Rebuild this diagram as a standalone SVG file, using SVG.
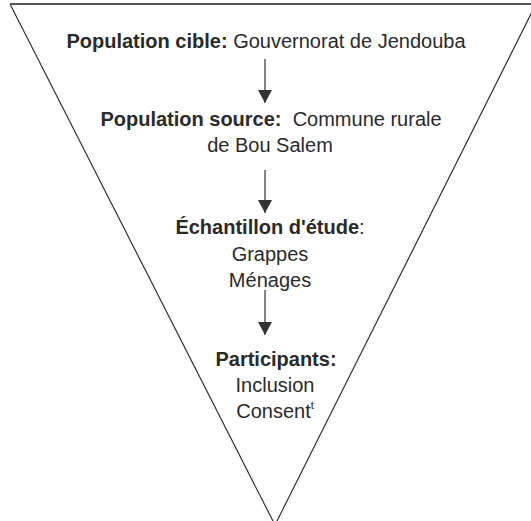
<svg xmlns="http://www.w3.org/2000/svg" width="531" height="521" viewBox="0 0 531 521">
<style>
  text { font-family: "Liberation Sans", Arial, sans-serif; font-size: 20px; fill: #2a2a2a; text-anchor: middle; }
  .b { font-weight: bold; }
  .shape { fill: none; stroke: #333; stroke-width: 1.2; }
  .top { fill: none; stroke: #555; stroke-width: 1.8; }
  .conn line { stroke: #333; stroke-width: 1.2; }
</style>
<defs>
  <marker id="ah" markerWidth="15" markerHeight="14" refX="13" refY="7" orient="auto" markerUnits="userSpaceOnUse">
    <path d="M0,0 L13,7 L0,14 Z" fill="#333"/>
  </marker>
</defs>
<g id="funnel">
  <path class="shape" d="M10,4 L275,525 L541,-6"/>
  <line class="top" x1="10" y1="4" x2="531" y2="4"/>
</g>
<g id="connectors" class="conn">
  <line x1="265" y1="59" x2="265" y2="103" marker-end="url(#ah)"/>
  <line x1="265" y1="170" x2="265" y2="213" marker-end="url(#ah)"/>
  <line x1="265" y1="290" x2="265" y2="335" marker-end="url(#ah)"/>
</g>
<g id="node-cible">
  <text x="266" y="48"><tspan class="b">Population cible:</tspan> Gouvernorat de Jendouba</text>
</g>
<g id="node-source">
  <text x="271" y="126"><tspan class="b">Population source:</tspan>&#160; Commune rurale</text>
  <text x="270" y="152">de Bou Salem</text>
</g>
<g id="node-echantillon">
  <text x="270" y="234"><tspan class="b">Échantillon d'étude</tspan>:</text>
  <text x="270" y="261">Grappes</text>
  <text x="270" y="287">Ménages</text>
</g>
<g id="node-participants">
  <text x="276" y="366" class="b">Participants:</text>
  <text x="275" y="392">Inclusion</text>
  <text x="275" y="418">Consent<tspan font-size="11" dy="-9">t</tspan></text>
</g>
</svg>
